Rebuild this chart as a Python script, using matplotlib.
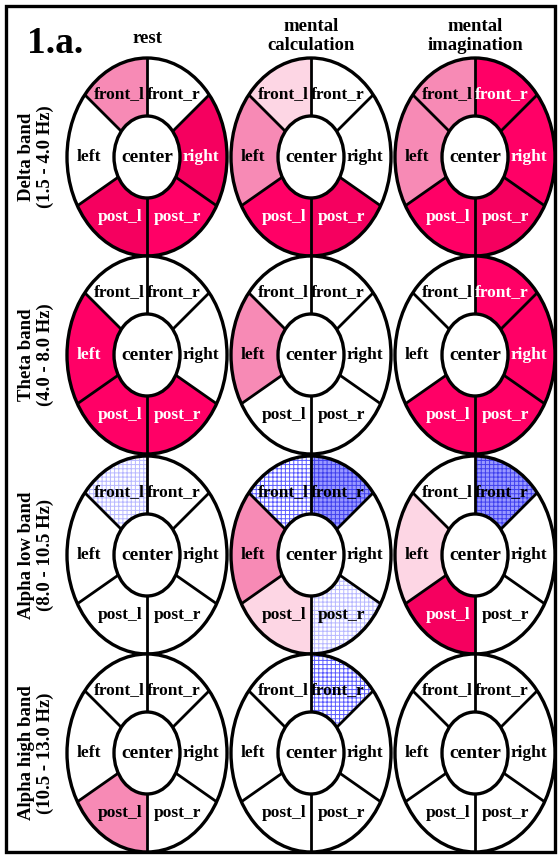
import numpy as np
import matplotlib.pyplot as plt
from matplotlib.patches import Polygon, Ellipse, Rectangle

plt.rcParams['font.family'] = 'Liberation Serif'
plt.rcParams['font.weight'] = 'bold'
plt.rcParams['hatch.linewidth'] = 0.7

conditions = ['rest', 'mental\ncalculation', 'mental\nimagination']
bands = ['Delta band\n(1.5 - 4.0 Hz)', 'Theta band\n(4.0 - 8.0 Hz)',
         'Alpha low band\n(8.0 - 10.5 Hz)', 'Alpha high band\n(10.5 - 13.0 Hz)']
sectors = ['front_l', 'front_r', 'left', 'right', 'post_l', 'post_r']

# level per sector (front_l, front_r, left, right, post_l, post_r)
# 0 none, 1..4 pink (increase), -1..-3 blue (decrease)
delta = [[2, 0, 0, 3, 3, 4],
         [1, 0, 2, 0, 4, 3],
         [2, 4, 2, 4, 4, 3]]
theta = [[0, 0, 4, 0, 4, 4],
         [0, 0, 2, 0, 0, 0],
         [0, 4, 0, 4, 4, 4]]
alpha_low = [[-1, 0, 0, 0, 0, 0],
             [-2, -3, 2, 0, 1, -1],
             [0, -3, 1, 0, 3, 0]]
alpha_high = [[0, 0, 0, 0, 2, 0],
              [0, -2, 0, 0, 0, 0],
              [0, 0, 0, 0, 0, 0]]
levels = [delta, theta, alpha_low, alpha_high]

# fill colour, hatch colour, hatch pattern
styles = {
    0: ('white', None, None),
    1: ('#fdd6e4', None, None),
    2: ('#f78ab5', None, None),
    3: ('#f5005f', None, None),
    4: ('#ff0066', None, None),
    -1: ('white', '#b8b8ff', '++++'),
    -2: ('white', '#5a5aff', '++++'),
    -3: ('#9a9aff', '#4040ee', '++++'),
}

# sector angle ranges (deg) and label offsets
spans = {'front_l': (90, 135), 'front_r': (45, 90), 'left': (135, 215),
         'right': (-35, 45), 'post_l': (215, 270), 'post_r': (270, 325)}
label_off = {'front_l': (-28, -63), 'front_r': (27, -63), 'left': (-58, 0),
             'right': (54, 0), 'post_l': (-27, 60), 'post_r': (30, 60)}

col_x = [147, 311, 475]
row_y = [157, 355, 555, 753]
A, B = 80, 99
a, b = 33, 41


def ell_pt(cx, cy, ra, rb, th):
    t = np.radians(th)
    r = 1 / np.sqrt((np.cos(t) / ra) ** 2 + (np.sin(t) / rb) ** 2)
    return cx + r * np.cos(t), cy - r * np.sin(t)


def sector_poly(cx, cy, t0, t1):
    th = np.linspace(t0, t1, 60)
    ox, oy = ell_pt(cx, cy, A, B, th)
    ix, iy = ell_pt(cx, cy, a, b, th[::-1])
    return np.column_stack([np.r_[ox, ix], np.r_[oy, iy]])


fig = plt.figure(figsize=(5.6, 8.57), dpi=100)
ax = fig.add_axes([0, 0, 1, 1])
ax.set_xlim(0, 560)
ax.set_ylim(857, 0)
ax.axis('off')

ax.add_patch(Rectangle((6, 6), 549, 846, fill=False, lw=2.4, ec='black'))

for r, cy in enumerate(row_y):
    for c, cx in enumerate(col_x):
        for s, name in enumerate(sectors):
            lv = levels[r][c][s]
            fc, hc, hatch = styles[lv]
            pts = sector_poly(cx, cy, *spans[name])
            ax.add_patch(Polygon(pts, closed=True, fc=fc, ec='none', lw=0))
            if hatch:
                ax.add_patch(Polygon(pts, closed=True, fc='none', ec=hc,
                                     hatch=hatch, lw=0))
            tc = 'white' if lv >= 3 else 'black'
            dx, dy = label_off[name]
            ax.text(cx + dx, cy + dy, name, ha='center', va='center',
                    fontsize=12.5, color=tc)
        # dividers
        for th in [45, 90, 135, 215, 270, 325]:
            x0, y0 = ell_pt(cx, cy, a, b, th)
            x1, y1 = ell_pt(cx, cy, A, B, th)
            ax.plot([x0, x1], [y0, y1], color='black', lw=2.0,
                    solid_capstyle='butt')
        ax.add_patch(Ellipse((cx, cy), 2 * A, 2 * B, fill=False, lw=2.4,
                             ec='black'))
        ax.add_patch(Ellipse((cx, cy), 2 * a, 2 * b, fc='white', lw=2.4,
                             ec='black'))
        ax.text(cx, cy, 'center', ha='center', va='center', fontsize=14)
    ax.text(36, cy, bands[r], rotation=90, ha='center', va='center',
            fontsize=13.5, linespacing=1.1)

for c, cx in enumerate(col_x):
    ax.text(cx, 38 if c == 0 else 36, conditions[c], ha='center',
            va='center', fontsize=13.5, linespacing=1.1)

ax.text(55, 43, '1.a.', ha='center', va='center', fontsize=27)

fig.savefig('out.png', dpi=100)
